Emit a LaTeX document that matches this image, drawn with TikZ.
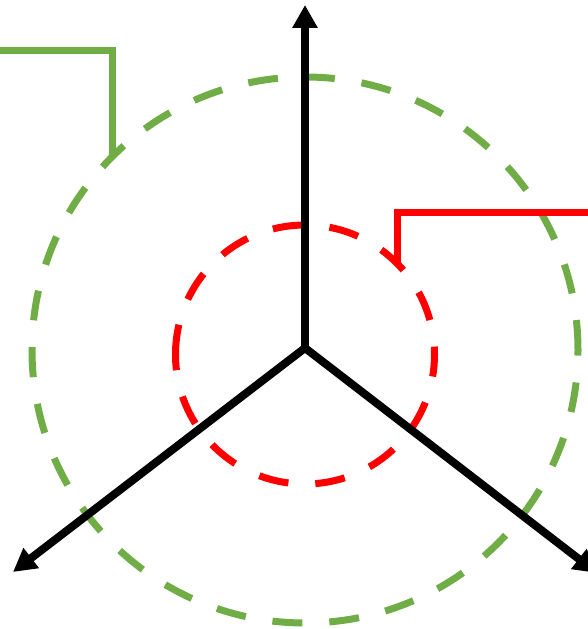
\documentclass[tikz,border=0pt]{standalone}
\usetikzlibrary{arrows.meta}
\definecolor{ringgreen}{RGB}{112,173,71}
\begin{document}
\begin{tikzpicture}[x=1pt, y=1pt,
    axis/.style={line width=8pt, -{Triangle[width=24pt, length=23pt]}},
    ring/.style={line width=7pt, dash pattern=on 30pt off 27pt},
    bracket/.style={line width=7pt}]
    \useasboundingbox (0,0) rectangle (588,629);

    \coordinate (o) at (305,281);
    \coordinate (up) at (305,624);
    \coordinate (ll) at (13,57);
    \coordinate (lr) at (597,56);

    \coordinate (cg) at (305,279);
    \coordinate (cr) at (305,274.5);

    % dashed rings
    \draw [ring, ringgreen] (cg) circle (273);
    \draw [ring, red] (cr) ++(180:129.5) arc [start angle=180, end angle=-180, radius=129.5];

    % axes
    \begin{scope}
        \draw [axis] (o) -- (up);
        \draw [axis] (o) -- (ll);
        \draw [axis] (o) -- (lr);
    \end{scope}

    % brackets
    \coordinate (g0) at (-5,578);
    \coordinate (g1) at (112,578);
    \coordinate (g2) at (112,471);
    \draw [bracket, ringgreen] (g0) -- (g1) -- (g2);

    \coordinate (r0) at (593,416);
    \coordinate (r1) at (397,416);
    \coordinate (r2) at (397,365);
    \draw [bracket, red] (r0) -- (r1) -- (r2);
\end{tikzpicture}
\end{document}
